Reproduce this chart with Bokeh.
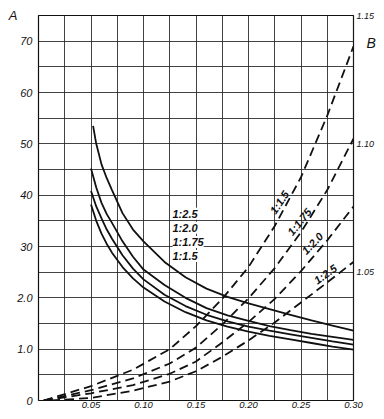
from bokeh.plotting import figure
from bokeh.models import (Range1d, LinearAxis, FixedTicker, Label, NumeralTickFormatter,
                          CustomJSTickFormatter)
from bokeh.embed import file_html
from bokeh.resources import INLINE

# ---- data: solid curves, A vs x ----
x_top = [0.052, 0.055, 0.06, 0.065, 0.07, 0.08, 0.09, 0.10, 0.12, 0.14, 0.16, 0.18, 0.20, 0.22, 0.24, 0.26, 0.28, 0.30]
a_25 = [53.5, 50.0, 46.0, 43.3, 41.0, 36.5, 33.3, 31.0, 27.0, 24.0, 21.8, 20.2, 18.9, 17.8, 16.7, 15.6, 14.6, 13.6]
x_sol = [0.05, 0.055, 0.06, 0.065, 0.07, 0.08, 0.09, 0.10, 0.12, 0.14, 0.16, 0.18, 0.20, 0.22, 0.24, 0.26, 0.28, 0.30]
a_20 = [45.2, 41.5, 38.5, 36.3, 34.6, 31.0, 28.0, 25.5, 22.5, 20.0, 18.0, 16.6, 15.5, 14.5, 13.7, 13.0, 12.4, 11.8]
a_175 = [40.8, 37.8, 35.5, 33.3, 31.5, 28.3, 25.7, 23.6, 20.6, 18.4, 16.7, 15.4, 14.4, 13.6, 12.9, 12.2, 11.5, 10.9]
a_15 = [38.2, 35.0, 32.5, 30.5, 28.8, 26.0, 23.8, 22.0, 19.3, 17.2, 15.6, 14.4, 13.4, 12.6, 11.9, 11.2, 10.5, 9.9]
solid_labels = ["1:2.5", "1:2.0", "1:1.75", "1:1.5"]

# ---- data: dashed curves, B vs x ----
x_d = [0.005, 0.05, 0.09, 0.125, 0.15, 0.175, 0.20, 0.225, 0.25, 0.275, 0.30]
b_15 = [1.0, 1.0056, 1.0120, 1.0200, 1.0290, 1.0396, 1.0520, 1.0680, 1.0870, 1.1110, 1.1380]
b_175 = [1.0, 1.0040, 1.0086, 1.0144, 1.0206, 1.0296, 1.0398, 1.0516, 1.0656, 1.0820, 1.1020]
b_20 = [1.0, 1.0028, 1.0060, 1.0104, 1.0152, 1.0226, 1.0306, 1.0396, 1.0504, 1.0624, 1.0756]
x_d25 = [0.012, 0.05, 0.09, 0.125, 0.15, 0.175, 0.20, 0.225, 0.25, 0.275, 0.30]
b_25 = [1.0, 1.0010, 1.0038, 1.0074, 1.0114, 1.0170, 1.0234, 1.0304, 1.0382, 1.0460, 1.0540]
dashed_labels = ["1:1.5", "1:1.75", "1:2.0", "1:2.5"]

x_ticks = [0.05, 0.10, 0.15, 0.20, 0.25, 0.30]
a_ticks = [0, 10, 20, 30, 40, 50, 60, 70]
a_tick_text = {10: "1.0", 20: "2.0"}
b_ticks = [1.05, 1.10, 1.15]

FONT = "Liberation Sans"
INK = "#111111"

p = figure(width=384, height=419, x_range=Range1d(0, 0.30), y_range=Range1d(0, 75),
           output_backend="svg", toolbar_location=None,
           min_border_left=38, min_border_right=31, min_border_top=15, min_border_bottom=19)
p.extra_y_ranges = {"B": Range1d(1.0, 1.15)}
p.background_fill_color = "white"
p.border_fill_color = "white"
p.outline_line_color = INK
p.outline_line_width = 1.2

# grid every 0.025 / 5
p.xgrid.ticker = FixedTicker(ticks=[i * 0.025 for i in range(13)])
p.ygrid.ticker = FixedTicker(ticks=[i * 5 for i in range(16)])
for g in (p.xgrid, p.ygrid):
    g.grid_line_color = "#222222"
    g.grid_line_width = 1
    g.grid_line_alpha = 0.85

# axes
p.xaxis.ticker = FixedTicker(ticks=x_ticks)
p.xaxis.formatter = NumeralTickFormatter(format="0.00")
p.yaxis.ticker = FixedTicker(ticks=a_ticks)
p.yaxis.major_label_overrides = a_tick_text
bax = LinearAxis(y_range_name="B", ticker=FixedTicker(ticks=b_ticks),
                 formatter=NumeralTickFormatter(format="0.00"))
p.add_layout(bax, "right")
# axis names as single-tick axes outside the frame
aname = LinearAxis(ticker=FixedTicker(ticks=[75]), formatter=CustomJSTickFormatter(code="return 'A'"))
p.add_layout(aname, "left")
bname = LinearAxis(y_range_name="B", ticker=FixedTicker(ticks=[1.1394]),
                   formatter=CustomJSTickFormatter(code="return 'B'"))
p.add_layout(bname, "right")

for ax in (p.xaxis[0], p.yaxis[0], bax, aname, bname):
    ax.axis_line_color = None
    ax.major_tick_line_color = None
    ax.minor_tick_line_color = None
    ax.major_tick_out = 0
    ax.major_tick_in = 0
    ax.minor_tick_out = 0
    ax.minor_tick_in = 0
    ax.major_label_text_font = FONT
    ax.major_label_text_font_style = "italic"
    ax.major_label_text_color = INK
p.xaxis.major_label_text_font_size = "9.5px"
p.xaxis.major_label_standoff = 1
p.yaxis[0].major_label_text_font_size = "11px"
p.yaxis[0].major_label_standoff = 6
bax.major_label_text_font_size = "9px"
bax.major_label_standoff = 3
aname.major_label_text_font_size = "13px"
aname.major_label_standoff = -3
bname.major_label_text_font_size = "14px"
bname.major_label_standoff = -11

# solid curves
p.line(x_top, a_25, line_color=INK, line_width=1.8)
for ys in (a_20, a_175, a_15):
    p.line(x_sol, ys, line_color=INK, line_width=1.8)

# dashed curves
for xs, ys in ((x_d, b_15), (x_d, b_175), (x_d, b_20), (x_d25, b_25)):
    p.line(xs, ys, y_range_name="B", line_color=INK, line_width=1.8, line_dash="9 5")

# solid-curve labels
for i, t in enumerate(solid_labels):
    p.add_layout(Label(x=0.1276, y=36.4 - i * 2.75, text=t, text_font=FONT, text_font_size="11px",
                       text_font_style="bold italic", text_color=INK, text_baseline="middle",
                       text_align="left", background_fill_color="white"))

# dashed-curve labels (rotated along curves)
dl_pos = [(0.2295, 38.6, 0.98), (0.2485, 34.8, 0.90), (0.2609, 30.6, 0.80), (0.2733, 24.6, 0.62)]
for t, (lx, ly, ang) in zip(dashed_labels, dl_pos):
    p.add_layout(Label(x=lx, y=ly, text=t, angle=ang, text_font=FONT, text_font_size="11px",
                       text_font_style="bold italic", text_color=INK, text_baseline="middle",
                       text_align="center"))

open("out.html", "w").write(file_html(p, INLINE))
